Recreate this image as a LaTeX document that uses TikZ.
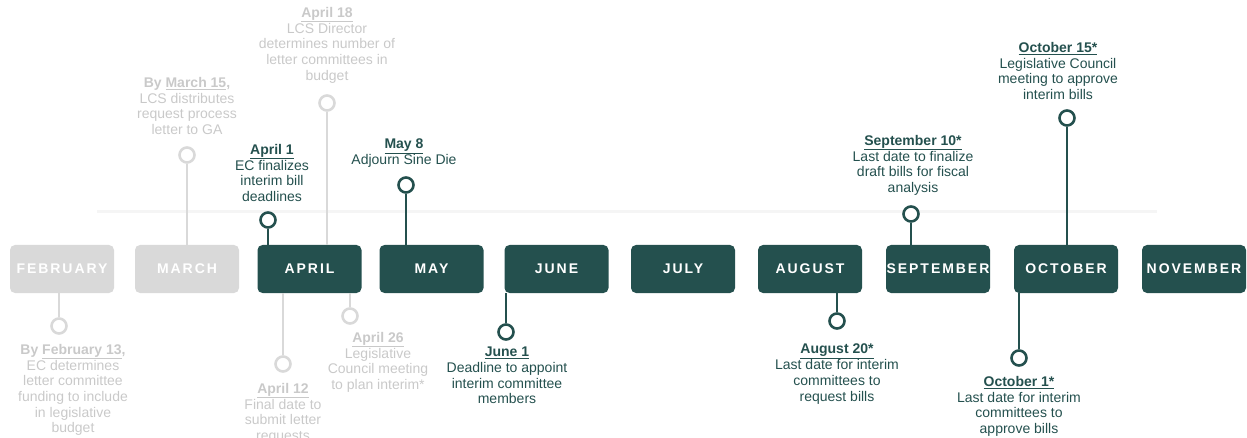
\documentclass[tikz,border=0pt]{standalone}
\usepackage{fontspec}
\setmainfont{Liberation Sans}
\newfontfamily\monthfont[LetterSpace=14]{Liberation Sans}
\usepackage{tikz}
\usetikzlibrary{
  positioning
}
\definecolor{deepteal}{HTML}{24504E}
\definecolor{boxgrey}{HTML}{D9D9D9}
\definecolor{textgrey}{HTML}{C9C9C9}
\definecolor{railgrey}{HTML}{F5F5F5}

\tikzset{
  month/.style={rounded corners=5pt, minimum width=104pt, minimum height=48pt,
    inner sep=0pt, text=white, font=\monthfont\bfseries\fontsize{14}{16}\selectfont},
  current/.style={month, fill=deepteal},
  passed/.style={month, fill=boxgrey},
  dot/.style={circle, draw=#1, line width=2.6pt, fill=white, minimum size=15pt, inner sep=0pt},
  stem/.style={draw=#1, line width=2.6pt},
  note/.style={align=center, inner sep=0pt, text=#1,
    font=\fontsize{14}{15.7}\selectfont},
}
\newcommand{\when}[1]{\underline{\textbf{#1}}}

\begin{document}
\begin{tikzpicture}[x=1pt, y=-1pt]

	    \useasboundingbox (0,0) rectangle (1247,438);

	    % faint rail behind the months
	    \coordinate (rail west) at (97,212);
	    \coordinate (rail east) at (1157,212);
	    \draw[railgrey, line width=3pt] (rail west) -- (rail east);

	    % months
	    \node[passed]  (feb) at (62,269)   {FEBRUARY};
	    \node[passed]  (mar) at (187,269)  {MARCH};
	    \node[current] (apr) at (309.5,269) {APRIL};
	    \node[current] (may) at (431.5,269) {MAY};
	    \node[current] (jun) at (556.5,269) {JUNE};
	    \node[current] (jul) at (683,269)  {JULY};
	    \node[current] (aug) at (810,269)  {AUGUST};
	    \node[current] (sep) at (938,269)  {SEPTEMBER};
	    \node[current] (oct) at (1066,269) {OCTOBER};
	    \node[current] (nov) at (1194,269) {NOVEMBER};

	    % grey milestones
	    \node[dot=boxgrey] (feb13) at (59,326)  {};
	    \node[dot=boxgrey] (mar15) at (187,155) {};
	    \node[dot=boxgrey] (apr18) at (327,103) {};
	    \node[dot=boxgrey] (apr12) at (283,364) {};
	    \node[dot=boxgrey] (apr26) at (350,316) {};
	    \draw[stem=boxgrey]
	        (feb13) -- (feb13 |- feb.south)
	        (mar15) -- (mar15 |- mar.north)
	        (apr18) -- (apr18 |- apr.north)
	        (apr12) -- (apr12 |- apr.south)
	        (apr26) -- (apr26 |- apr.south);

	    % teal milestones
	    \node[dot=deepteal] (apr1)  at (268,220)  {};
	    \node[dot=deepteal] (may8)  at (406,185)  {};
	    \node[dot=deepteal] (jun1)  at (506,332)  {};
	    \node[dot=deepteal] (aug20) at (837,321)  {};
	    \node[dot=deepteal] (sep10) at (911,214)  {};
	    \node[dot=deepteal] (oct1)  at (1019,358) {};
	    \node[dot=deepteal] (oct15) at (1067,118) {};
	    \draw[stem=deepteal]
	        (apr1)  -- (apr1 |- apr.north)
	        (may8)  -- (may8 |- may.north)
	        (jun1)  -- (jun1 |- jun.south)
	        (aug20) -- (aug20 |- aug.south)
	        (sep10) -- (sep10 |- sep.north)
	        (oct1)  -- (oct1 |- oct.south)
	        (oct15) -- (oct15 |- oct.north);

	    % notes
	    \node[note=textgrey, anchor=north] (feb13 note) at (73,344)
	        {\textbf{By \when{February 13},}\\EC determines\\letter committee\\funding to include\\in legislative\\budget};
	    \node[note=textgrey, anchor=north] (mar15 note) at (187,77)
	        {\textbf{By \when{March 15},}\\LCS distributes\\request process\\letter to GA};
	    \node[note=textgrey, anchor=north] (apr18 note) at (327,7)
	        {\when{April 18}\\LCS Director\\determines number of\\letter committees in\\budget};
	    \node[note=textgrey, anchor=north] (apr12 note) at (283,383)
	        {\when{April 12}\\Final date to\\submit letter\\requests};
	    \node[note=textgrey, anchor=north] (apr26 note) at (378,332)
	        {\when{April 26}\\Legislative\\Council meeting\\to plan interim*};
	    \node[note=deepteal, anchor=north] (apr1 note) at (272,144)
	        {\when{April 1}\\EC finalizes\\interim bill\\deadlines};
	    \node[note=deepteal, anchor=north] (may8 note) at (404,139)
	        {\when{May 8}\\Adjourn Sine Die};
	    \node[note=deepteal, anchor=north] (jun1 note) at (507,347)
	        {\when{June 1}\\Deadline to appoint\\interim committee\\members};
	    \node[note=deepteal, anchor=north] (aug20 note) at (837,344)
	        {\when{August 20*}\\Last date for interim\\committees to\\request bills};
	    \node[note=deepteal, anchor=north] (sep10 note) at (913,135)
	        {\when{September 10*}\\Last date to finalize\\draft bills for fiscal\\analysis};
	    \node[note=deepteal, anchor=north] (oct1 note) at (1019,376)
	        {\when{October 1*}\\Last date for interim\\committees to\\approve bills};
	    \node[note=deepteal, anchor=north] (oct15 note) at (1058,42)
	        {\when{October 15*}\\Legislative Council\\meeting to approve\\interim bills};

\end{tikzpicture}
\end{document}
